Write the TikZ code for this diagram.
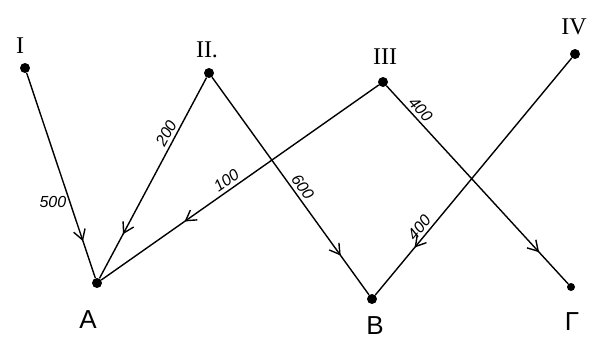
\documentclass[tikz,border=0pt]{standalone}
\usepackage{fontspec}
\setmainfont{Liberation Sans}
\newfontfamily\romanfont{Liberation Serif}
\usetikzlibrary{arrows.meta,decorations.markings}
\begin{document}
\begin{tikzpicture}[x=1pt,y=-1pt,
  dot/.style={circle,fill=black,inner sep=0pt,minimum size=10pt},
  roman/.style={font=\romanfont\fontsize{24}{24}\selectfont},
  letter/.style={font=\fontsize{26}{26}\selectfont,inner sep=1pt},
  num/.style={font=\itshape\fontsize{16}{16}\selectfont,inner sep=3pt},
  flow/.style={line width=1.4pt,
    decoration={markings,mark=at position #1 with {\arrow{Straight Barb[length=10pt,width=12pt,line width=1.4pt]}}},
    postaction={decorate}},
  flow/.default=0.8]
\useasboundingbox (0,0) rectangle (601,341);
% sources
\node[dot] (I) at (25,68) {};
\node[dot] (II) at (209,73) {};
\node[dot] (III) at (383,82) {};
\node[dot] (IV) at (575,54) {};
% destinations
\node[dot] (A) at (97,283) {};
\node[dot] (B) at (372,299) {};
\node[dot,minimum size=8pt] (G) at (571,287) {};
% labels
\node[roman] (lI) at (20,46) {I};
\node[roman] (lII) at (207,50) {II.};
\node[roman] (lIII) at (385,57) {III};
\node[roman] (lIV) at (574,27) {IV};
\node[letter] (lA) at (88,320) {A};
\node[letter] (lB) at (375,326) {B};
\node[letter] (lG) at (572,322) {Г};
% flows
\draw[flow=0.82] (I) -- (A) node[num,pos=0.63,left] {500};
\draw[flow=0.78] (II) -- (A) node[num,pos=0.3,sloped,above] {200};
\draw[flow=0.70] (III) -- (A) node[num,pos=0.53,sloped,above] {100};
\draw[flow=0.82] (II) -- (B) node[num,pos=0.5,sloped,above,xshift=8pt] {600};
\draw[flow=0.84] (III) -- (G) node[num,pos=0.15,sloped,above] {400};
\draw[flow=0.80] (IV) -- (B) node[num,pos=0.74,sloped,above] {400};
\end{tikzpicture}
\end{document}
